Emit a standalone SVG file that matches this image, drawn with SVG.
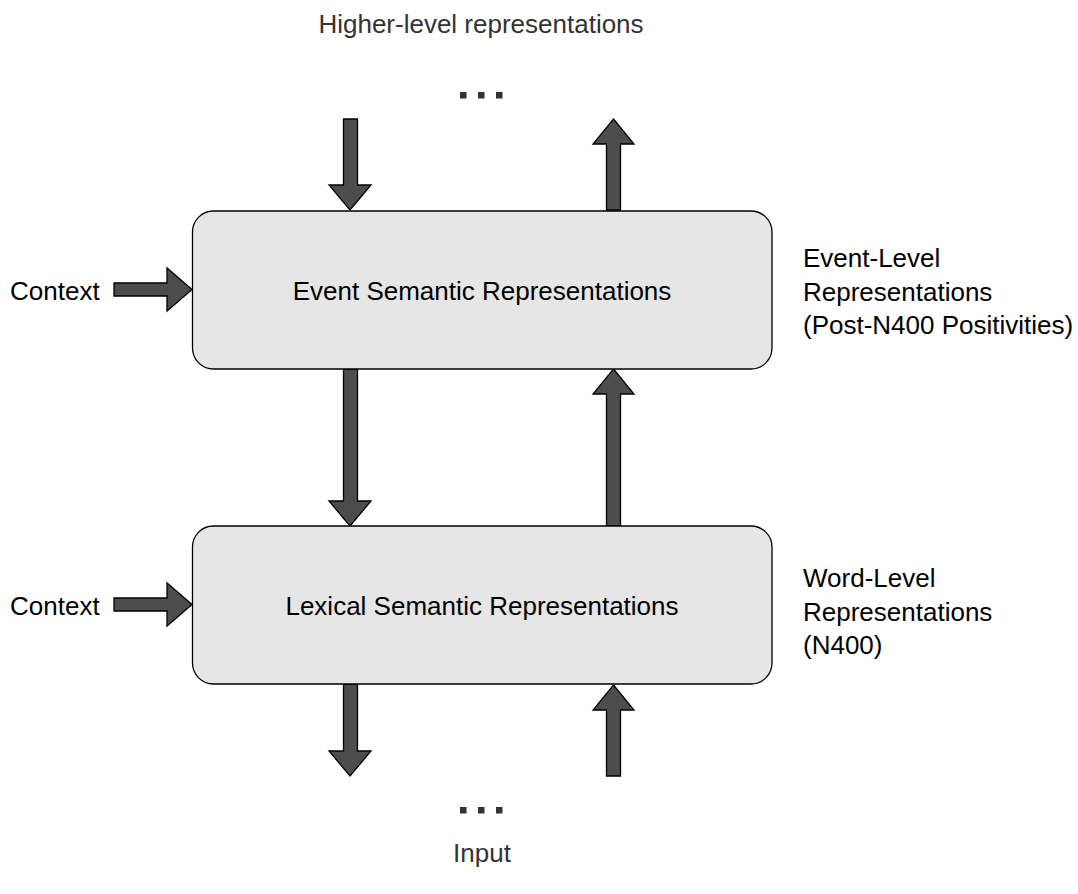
<svg xmlns="http://www.w3.org/2000/svg" width="1078" height="894" viewBox="0 0 1078 894">
<style>
.t{font-family:"Liberation Sans",Arial,sans-serif;font-size:26px;fill:#000}
.g{fill:#333}
.box{fill:#E6E6E6;stroke:#000;stroke-width:1.3}
.arr{fill:#4D4D4D;stroke:#000;stroke-width:1.3;stroke-linejoin:miter}
.dot{fill:#333}
</style>
<rect width="1078" height="894" fill="#fff"/>
<g id="connectors">
<polygon class="arr" points="343.5,119 357.5,119 357.5,185 371,185 350,210 329,185 343.5,185"/>
<polygon class="arr" points="613.5,119 634,144 620.5,144 620.5,210 606.5,210 606.5,144 593,144"/>
<polygon class="arr" points="343.5,369 357.5,369 357.5,501 371,501 350,526 329,501 343.5,501"/>
<polygon class="arr" points="613.5,369 634,394 620.5,394 620.5,526 606.5,526 606.5,394 593,394"/>
<polygon class="arr" points="343.5,684 357.5,684 357.5,751 371,751 350,776 329,751 343.5,751"/>
<polygon class="arr" points="613.5,685 634,710 620.5,710 620.5,776 606.5,776 606.5,710 593,710"/>
<polygon class="arr" points="114,283 167,283 167,268 192,289.5 167,311 167,296 114,296"/>
<polygon class="arr" points="114,598 167,598 167,583 192,604.5 167,626 167,611 114,611"/>
</g>
<g id="top-dots">
<rect class="dot" x="460" y="92" width="6.5" height="6.5"/>
<rect class="dot" x="478" y="92" width="6.5" height="6.5"/>
<rect class="dot" x="496" y="92" width="6.5" height="6.5"/>
</g>
<g id="bottom-dots">
<rect class="dot" x="460" y="807" width="6.5" height="6.5"/>
<rect class="dot" x="478" y="807" width="6.5" height="6.5"/>
<rect class="dot" x="496" y="807" width="6.5" height="6.5"/>
</g>
<g id="event-box">
<rect class="box" x="192.5" y="211" width="579.5" height="158" rx="21" ry="21"/>
<text class="t" x="482" y="299.5" text-anchor="middle">Event Semantic Representations</text>
</g>
<g id="lexical-box">
<rect class="box" x="192.5" y="526" width="579.5" height="158" rx="21" ry="21"/>
<text class="t" x="482" y="614.5" text-anchor="middle">Lexical Semantic Representations</text>
</g>
<g id="context-1"><text class="t" x="10" y="300">Context</text></g>
<g id="context-2"><text class="t" x="10" y="615">Context</text></g>
<g id="higher-label"><text class="t g" x="481" y="33" text-anchor="middle">Higher-level representations</text></g>
<g id="input-label"><text class="t g" x="482" y="862" text-anchor="middle">Input</text></g>
<g id="event-level-label">
<text class="t" x="803" y="267">Event-Level</text>
<text class="t" x="803" y="300.5">Representations</text>
<text class="t" x="803" y="334">(Post-N400 Positivities)</text>
</g>
<g id="word-level-label">
<text class="t" x="803" y="587">Word-Level</text>
<text class="t" x="803" y="620.5">Representations</text>
<text class="t" x="803" y="654">(N400)</text>
</g>
</svg>
